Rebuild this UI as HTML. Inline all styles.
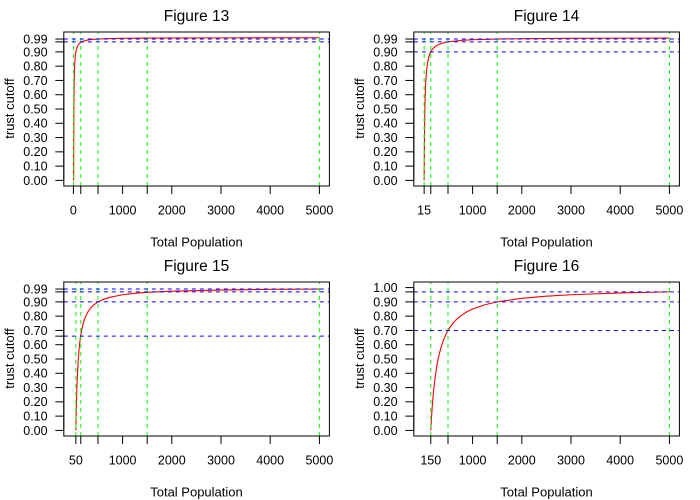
<!DOCTYPE html>
<html>
<head>
<meta charset="utf-8">
<title>Figures 13-16</title>
<style>
html,body{margin:0;padding:0;background:#fff;width:700px;height:500px;overflow:hidden}
svg{display:block}
text{font-family:"Liberation Sans",Helvetica,Arial,sans-serif;fill:#000}
</style>
</head>
<body>
<svg id="chart" xmlns="http://www.w3.org/2000/svg" width="700" height="500" viewBox="0 0 700 500"></svg>
<script>
const xLabel = 'Total Population';
const yLabel = 'trust cutoff';

const titles = ['Figure 13', 'Figure 14', 'Figure 15', 'Figure 16'];

const populations13 = [5, 5.5, 6, 6.5, 7, 8, 9, 10, 12, 14, 17, 20, 25, 30, 40, 50, 60, 75, 100, 125, 150, 200, 250, 350, 500, 750, 1000, 1500, 3000, 5000];
const cutoffs13 = [0, 0.091, 0.167, 0.231, 0.286, 0.375, 0.444, 0.5, 0.583, 0.643, 0.706, 0.75, 0.8, 0.833, 0.875, 0.9, 0.917, 0.933, 0.95, 0.96, 0.967, 0.975, 0.98, 0.986, 0.99, 0.993, 0.995, 0.997, 0.998, 0.999];

const populations14 = [15, 16, 17, 18, 20, 22, 25, 28, 32, 36, 40, 45, 50, 60, 75, 90, 110, 130, 150, 175, 200, 250, 300, 400, 500, 750, 1000, 1500, 2000, 3000, 5000];
const cutoffs14 = [0, 0.063, 0.118, 0.167, 0.25, 0.318, 0.4, 0.464, 0.531, 0.583, 0.625, 0.667, 0.7, 0.75, 0.8, 0.833, 0.864, 0.885, 0.9, 0.914, 0.925, 0.94, 0.95, 0.9625, 0.97, 0.98, 0.985, 0.99, 0.9925, 0.995, 0.997];

const populations15 = [50, 53, 56, 60, 65, 70, 75, 80, 90, 100, 110, 125, 140, 150, 175, 200, 225, 250, 300, 350, 400, 500, 600, 750, 1000, 1250, 1500, 2000, 3000, 4000, 5000];
const cutoffs15 = [0, 0.057, 0.107, 0.167, 0.231, 0.286, 0.333, 0.375, 0.444, 0.5, 0.545, 0.6, 0.643, 0.667, 0.714, 0.75, 0.778, 0.8, 0.833, 0.857, 0.875, 0.9, 0.917, 0.933, 0.95, 0.96, 0.967, 0.975, 0.983, 0.988, 0.99];

const populations16 = [150, 155, 160, 165, 170, 175, 185, 200, 215, 230, 250, 275, 300, 325, 350, 375, 400, 450, 500, 550, 600, 675, 750, 875, 1000, 1250, 1500, 2000, 2500, 3000, 4000, 5000];
const cutoffs16 = [0, 0.032, 0.063, 0.091, 0.118, 0.143, 0.189, 0.25, 0.302, 0.348, 0.4, 0.455, 0.5, 0.538, 0.571, 0.6, 0.625, 0.667, 0.7, 0.727, 0.75, 0.778, 0.8, 0.829, 0.85, 0.88, 0.9, 0.925, 0.94, 0.95, 0.9625, 0.97];

const xTicks13 = [0, 150, 500, 1000, 1500, 2000, 3000, 4000, 5000];
const xTicks14 = [15, 150, 500, 1000, 1500, 2000, 3000, 4000, 5000];
const xTicks15 = [50, 150, 500, 1000, 1500, 2000, 3000, 4000, 5000];
const xTicks16 = [150, 500, 1000, 1500, 2000, 3000, 4000, 5000];

const xTickLabels13 = ['0', '1000', '2000', '3000', '4000', '5000'];
const xTickLabels14 = ['15', '1000', '2000', '3000', '4000', '5000'];
const xTickLabels15 = ['50', '1000', '2000', '3000', '4000', '5000'];
const xTickLabels16 = ['150', '1000', '2000', '3000', '4000', '5000'];

const yTicks13 = [0, 0.1, 0.2, 0.3, 0.4, 0.5, 0.6, 0.7, 0.8, 0.9, 0.97, 0.99];
const yTicks14 = [0, 0.1, 0.2, 0.3, 0.4, 0.5, 0.6, 0.7, 0.8, 0.9, 0.97, 0.99];
const yTicks15 = [0, 0.1, 0.2, 0.3, 0.4, 0.5, 0.6, 0.66, 0.7, 0.8, 0.9, 0.97, 0.99];
const yTicks16 = [0, 0.1, 0.2, 0.3, 0.4, 0.5, 0.6, 0.7, 0.8, 0.9, 0.97, 1];

const yTickLabels13 = ['0.00', '0.10', '0.20', '0.30', '0.40', '0.50', '0.60', '0.70', '0.80', '0.90', '0.99'];
const yTickLabels14 = ['0.00', '0.10', '0.20', '0.30', '0.40', '0.50', '0.60', '0.70', '0.80', '0.90', '0.99'];
const yTickLabels15 = ['0.00', '0.10', '0.20', '0.30', '0.40', '0.50', '0.60', '0.70', '0.80', '0.90', '0.99'];
const yTickLabels16 = ['0.00', '0.10', '0.20', '0.30', '0.40', '0.50', '0.60', '0.70', '0.80', '0.90', '1.00'];

const vLines13 = [5, 150, 500, 1500, 5000];
const vLines14 = [15, 150, 500, 1500, 5000];
const vLines15 = [50, 150, 500, 1500, 5000];
const vLines16 = [150, 500, 1500, 5000];

const hLines13 = [0.97, 0.99];
const hLines14 = [0.9, 0.97, 0.99];
const hLines15 = [0.66, 0.9, 0.97, 0.99];
const hLines16 = [0.7, 0.9, 0.97];

const panels = [
  { fig: 13, col: 0, row: 0, xs: populations13, ys: cutoffs13, xt: xTicks13, xl: xTickLabels13, yt: yTicks13, yl: yTickLabels13, v: vLines13, h: hLines13 },
  { fig: 14, col: 1, row: 0, xs: populations14, ys: cutoffs14, xt: xTicks14, xl: xTickLabels14, yt: yTicks14, yl: yTickLabels14, v: vLines14, h: hLines14 },
  { fig: 15, col: 0, row: 1, xs: populations15, ys: cutoffs15, xt: xTicks15, xl: xTickLabels15, yt: yTicks15, yl: yTickLabels15, v: vLines15, h: hLines15 },
  { fig: 16, col: 1, row: 1, xs: populations16, ys: cutoffs16, xt: xTicks16, xl: xTickLabels16, yt: yTicks16, yl: yTickLabels16, v: vLines16, h: hLines16 }
];

const svg = document.getElementById('chart');
const NS = 'http://www.w3.org/2000/svg';

function make(parent, tag, attrs, text) {
  const el = document.createElementNS(NS, tag);
  for (const k in attrs) el.setAttribute(k, attrs[k]);
  if (text !== undefined) el.textContent = text;
  parent.appendChild(el);
  return el;
}

panels.forEach(function (p, i) {
  const ox = p.col * 350;
  const oy = p.row * 250;
  const left = 63.8 + ox, right = 329.4 + ox, top = 32 + oy, bottom = 186 + oy;
  const xScale = function (v) { return 73.4 + ox + v * 246 / 5000; };
  const yScale = function (v) { return 180.4 + oy - v * 142.8; };

  const g = make(svg, 'g', {});
  
  

  const clipId = 'clip' + p.fig;
  const defs = make(g, 'defs', {});
  const clip = make(defs, 'clipPath', { id: clipId });
  make(clip, 'rect', { x: left, y: top, width: right - left, height: bottom - top });

  const curve = make(g, 'polyline', {
    points: p.xs.map(function (x, j) { return xScale(x) + ',' + yScale(p.ys[j]); }).join(' '),
    fill: 'none', stroke: '#ff0000', 'stroke-width': 1.1, 'stroke-linejoin': 'round', 'clip-path': 'url(#' + clipId + ')'
  });
  
  

  p.v.forEach(function (v) {
    const ln = make(g, 'line', {
      x1: xScale(v), x2: xScale(v), y1: bottom, y2: top,
      stroke: '#00ff00', 'stroke-width': 1, 'stroke-dasharray': '4 4'
    });
    
    
  });

  p.h.forEach(function (v) {
    const ln = make(g, 'line', {
      x1: left, x2: right, y1: yScale(v), y2: yScale(v),
      stroke: '#0000ff', 'stroke-width': 1, 'stroke-dasharray': '4 4'
    });
    
    
  });

  const box = make(g, 'rect', {
    x: left, y: top, width: right - left, height: bottom - top,
    fill: 'none', stroke: '#000', 'stroke-width': 1
  });
  
  

  const xAxis = make(g, 'line', {
    x1: xScale(p.xt[0]), x2: xScale(p.xt[p.xt.length - 1]), y1: bottom, y2: bottom,
    stroke: '#000', 'stroke-width': 1
  });
  
  

  const yAxis = make(g, 'line', {
    x1: left, x2: left, y1: yScale(p.yt[0]), y2: yScale(p.yt[p.yt.length - 1]),
    stroke: '#000', 'stroke-width': 1
  });
  
  

  p.xt.forEach(function (v) {
    const t = make(g, 'line', {
      x1: xScale(v), x2: xScale(v), y1: bottom, y2: bottom + 8, stroke: '#000', 'stroke-width': 1
    });
    
    
  });

  p.yt.forEach(function (v) {
    const t = make(g, 'line', {
      x1: left, x2: left - 8.5, y1: yScale(v), y2: yScale(v), stroke: '#000', 'stroke-width': 1
    });
    
    
  });

  p.xl.forEach(function (label) {
    const t = make(g, 'text', {
      x: xScale(Number(label)), y: 214.5 + oy, 'text-anchor': 'middle', 'font-size': 12.5
    }, label);
    
    
  });

  p.yl.forEach(function (label) {
    const t = make(g, 'text', {
      x: 47.6 + ox, y: yScale(Number(label)) + 4.4, 'text-anchor': 'end', 'font-size': 12.5
    }, label);
    
    
  });

  const title = make(g, 'text', {
    x: 196.5 + ox, y: 21 + oy, 'text-anchor': 'middle', 'font-size': 15.5
  }, titles[i]);
  
  

  const xt = make(g, 'text', {
    x: 196.5 + ox, y: 246.5 + oy, 'text-anchor': 'middle', 'font-size': 13
  }, xLabel);
  
  

  const yt = make(g, 'text', {
    x: 0, y: 0, 'text-anchor': 'middle', 'font-size': 13,
    transform: 'translate(' + (14 + ox) + ' ' + (108.5 + oy) + ') rotate(-90)'
  }, yLabel);
  
  
});
</script>
</body>
</html>
